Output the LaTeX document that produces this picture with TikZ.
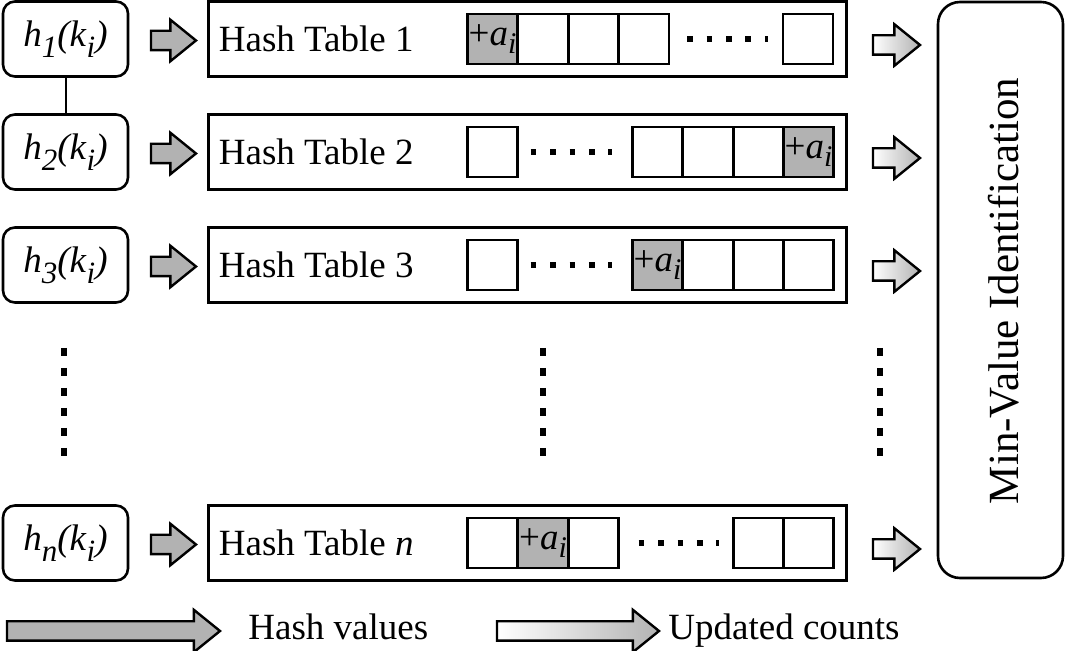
\documentclass[tikz,border=0pt]{standalone}
\usepackage{fontspec}
\setmainfont{LiberationSerif}[Extension=.ttf, UprightFont=*-Regular, ItalicFont=*-Italic, BoldFont=*-Bold, BoldItalicFont=*-BoldItalic]
\usetikzlibrary{shapes.arrows}

\newcommand{\hsub}[1]{\raisebox{-0.3em}{\fontsize{15.5}{16}\selectfont\textit{#1}}}
\newcommand{\hlab}[1]{\textit{h}\hsub{#1}\textit{(k}\hsub{i}\textit{)}}
\newcommand{\plusa}{+\textit{a}\raisebox{-0.2em}{\fontsize{15}{16}\selectfont\textit{i}}}

\tikzset{
	hbox/.style={draw, rounded corners=6pt, line width=1.3pt, minimum width=62.5pt, minimum height=37.5pt, inner sep=0pt},
	tbox/.style={draw, line width=1.5pt, minimum width=319pt, minimum height=37.5pt, inner sep=0pt},
	cell/.style={draw, line width=1.2pt, minimum size=25pt, inner sep=0pt},
	hit/.style={cell, fill=gray!60},
	blockarrow/.style={single arrow, draw, line width=1.2pt, inner sep=0pt, inner ysep=4.25pt, single arrow head extend=5.5pt, single arrow tip angle=78},
	hasharrow/.style={blockarrow, fill=gray!60},
	countarrow/.style={blockarrow, left color=white, right color=gray!60},
	hdots/.style={line width=2.8pt, dash pattern=on 2.8pt off 6.9pt},
	vdots/.style={line width=2.8pt, dash pattern=on 4pt off 6pt},
}

\begin{document}
\begin{tikzpicture}[x=0.5pt, y=-0.5pt, every node/.style={font=\fontsize{18.5}{22}\selectfont}]
		
		\useasboundingbox (0,0) rectangle (1066,651);
		
		% Hash functions
		
		\node[hbox] (h1) at (65.5,39) {\hlab{1}};
		\node[hbox] (h2) at (65.5,152) {\hlab{2}};
		\node[hbox] (h3) at (65.5,265) {\hlab{3}};
		\node[hbox] (hn) at (65.5,543) {\hlab{n}};
		
		\draw[line width=1pt] (h1) -- (h2);
		
		% Hash tables
		
		\node[tbox] (t1) at (527,39) {};
		\node[tbox] (t2) at (527,152) {};
		\node[tbox] (t3) at (527,265) {};
		\node[tbox] (tn) at (527,543) {};
		
		\node[anchor=west, inner sep=0pt] (l1) at ([xshift=6pt]t1.west) {Hash Table 1};
		\node[anchor=west, inner sep=0pt] (l2) at ([xshift=6pt]t2.west) {Hash Table 2};
		\node[anchor=west, inner sep=0pt] (l3) at ([xshift=6pt]t3.west) {Hash Table 3};
		\node[anchor=west, inner sep=0pt] (ln) at ([xshift=6pt]tn.west) {Hash Table \textit{n}};
		
		% Cells
		
		\node[hit] (c11) at (492.5,39) {\plusa};
		\node[cell] (c12) at (543,39) {};
		\node[cell] (c13) at (593.5,39) {};
		\node[cell] (c14) at (644,39) {};
		\node[cell] (c15) at (808,39) {};
		
		\node[cell] (c21) at (492.5,152) {};
		\node[cell] (c22) at (657.5,152) {};
		\node[cell] (c23) at (708,152) {};
		\node[cell] (c24) at (758.5,152) {};
		\node[hit] (c25) at (808.5,152) {\plusa};
		
		\node[cell] (c31) at (492.5,265) {};
		\node[hit] (c32) at (657.5,265) {\plusa};
		\node[cell] (c33) at (708,265) {};
		\node[cell] (c34) at (758.5,265) {};
		\node[cell] (c35) at (808.5,265) {};
		
		\node[cell] (cn1) at (492.5,543) {};
		\node[hit] (cn2) at (543,543) {\plusa};
		\node[cell] (cn3) at (593.5,543) {};
		\node[cell] (cn4) at (758.5,543) {};
		\node[cell] (cn5) at (808.5,543) {};
		
		\draw[hdots] ([xshift=8.5pt]c14.east) -- ([xshift=-7pt]c15.west);
		\draw[hdots] ([xshift=6pt]c21.east) -- ([xshift=-9.5pt]c22.west);
		\draw[hdots] ([xshift=6pt]c31.east) -- ([xshift=-9.5pt]c32.west);
		\draw[hdots] ([xshift=9.5pt]cn3.east) -- ([xshift=-6.5pt]cn4.west);
		
		% Min value box
		
		\node[draw, rounded corners=11pt, line width=1.3pt, minimum width=62.5pt, minimum height=288pt] (minv) at (1000.5,290) {};
		\node[rotate=90, font=\fontsize{21.5}{24}\selectfont] (minvlabel) at (1004,291) {Min-Value Identification};
		
		% Arrows
		
		\node[hasharrow, minimum height=22.5pt] (a1) at (167.5,40.5) {};
		\node[hasharrow, minimum height=22.5pt] (a2) at (167.5,153.5) {};
		\node[hasharrow, minimum height=22.5pt] (a3) at (167.5,266.5) {};
		\node[hasharrow, minimum height=22.5pt] (an) at (167.5,544.5) {};
		
		\node[countarrow, minimum height=23.5pt] (u1) at (890.5,45) {};
		\node[countarrow, minimum height=23.5pt] (u2) at (890.5,158) {};
		\node[countarrow, minimum height=23.5pt] (u3) at (890.5,271) {};
		\node[countarrow, minimum height=23.5pt] (un) at (890.5,549) {};
		
		% Vertical dots
		
		\foreach \x in {64,543,880}
			\draw[vdots] (\x,348) -- (\x,456);
		
		% Legend
		
		\node[hasharrow, minimum height=106.5pt, single arrow head extend=5.75pt] (leghash) at (107.5,631) {};
		\node[anchor=base west, inner sep=0pt] (leghashtext) at (248,640) {Hash values};
		
		\node[countarrow, minimum height=81pt, single arrow head extend=5.75pt] (legcount) at (572,631) {};
		\node[anchor=base west, inner sep=0pt] (legcounttext) at (668,640) {Updated counts};
		
	\end{tikzpicture}
\end{document}
